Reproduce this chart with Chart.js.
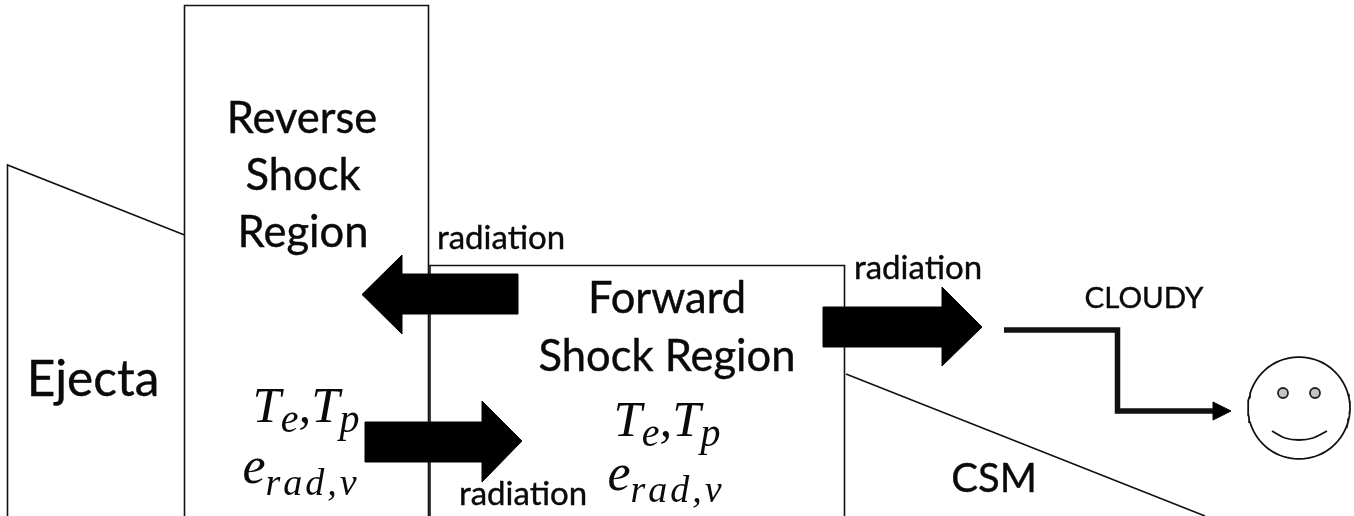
<!DOCTYPE html>
<html>
<head>
<meta charset="utf-8">
<style>
  html, body { margin: 0; padding: 0; background: #fff; }
  #wrap { width: 1354px; height: 516px; }
</style>
<script src="https://cdn.jsdelivr.net/npm/chart.js@4/dist/chart.umd.min.js"></script>
</head>
<body>
<div id="wrap"><canvas id="chart" width="1354" height="516"></canvas></div>
<script>
// outlines, in picture units (x right, y down)
const ejectaLine = [[7.5, 516], [7.5, 165], [184.5, 235]];
const reverseBox = [[184.5, 516], [184.5, 5.5], [428.5, 5.5], [428.5, 516]];
const forwardBox = [[430, 516], [430, 265.5], [844.5, 265.5], [844.5, 516]];
const csmLine = [[846, 374], [1205, 516]];
const arrowLeft = [[518, 274], [402, 274], [402, 255], [362, 294.5], [402, 334], [402, 314], [518, 314], [518, 274]];
const arrowLower = [[365, 422], [482, 422], [482, 401], [522, 441], [482, 482], [482, 462], [365, 462], [365, 422]];
const arrowUpper = [[823, 307], [942, 307], [942, 287], [982, 327], [942, 366], [942, 347], [823, 347], [823, 307]];
const cloudyLine = [[1004, 330], [1117.5, 330], [1117.5, 411], [1215, 411]];
const cloudyHead = [[1213, 402], [1231, 411], [1213, 420], [1213, 402]];
const faceRing = [1299, 408, 51];
const eyes = [[1283, 393], [1315, 393]];
const smile = [[1272, 431], [1285, 438], [1299, 440], [1313, 438], [1327, 431]];

// text, centre x, baseline y, font size
const labels = [
  ["Reverse", 302, 133, 43.5], ["Shock", 303, 190, 43.5], ["Region", 303, 247, 43.5],
  ["Ejecta", 93, 396, 49.5], ["Forward", 667, 313, 43.5], ["Shock Region", 667, 371, 43.5],
  ["CSM", 994, 492, 40], ["CLOUDY", 1144, 308, 29.5],
  ["radiation", 501, 249, 33], ["radiation", 918, 279, 33], ["radiation", 523, 505, 33],
];
const temperatureLabels = [[306, 422], [667, 436]];
const energyLabels = [[301, 483], [666, 490]];

function toPoints(pairs) {
  return pairs.map(([x, y]) => ({ x, y }));
}

function ringPoints(cx, cy, r) {
  const out = [];
  for (let a = 0; a <= 360; a += 4) {
    out.push({ x: cx + r * Math.cos(a * Math.PI / 180), y: cy + r * Math.sin(a * Math.PI / 180) });
  }
  return out;
}

function outline(pairs, width = 1.6) {
  return { data: toPoints(pairs), borderColor: "#111", borderWidth: width, pointRadius: 0, showLine: true, tension: 0, borderCapStyle: "butt", borderJoinStyle: "miter" };
}

function solid(pairs) {
  return { data: toPoints(pairs), borderColor: "#000", borderWidth: 1, pointRadius: 0, showLine: true, tension: 0, solidShape: true };
}

// each part: text, font size, drop below the baseline, letter spacing
function drawParts(ctx, parts, cx, base) {
  let total = 0;
  parts.forEach(([text, size, , spacing]) => {
    ctx.font = `italic ${size}px "Liberation Serif"`;
    ctx.letterSpacing = `${spacing}px`;
    total += ctx.measureText(text).width;
  });
  let cursor = cx - total / 2;
  parts.forEach(([text, size, drop, spacing]) => {
    ctx.font = `italic ${size}px "Liberation Serif"`;
    ctx.letterSpacing = `${spacing}px`;
    ctx.fillText(text, cursor, base + drop);
    cursor += ctx.measureText(text).width;
  });
  ctx.letterSpacing = "0px";
}

const shapePlugin = {
  id: "solidShapes",
  afterDatasetsDraw(chart) {
    const { ctx } = chart;
    ctx.save();
    ctx.fillStyle = "#000";
    chart.data.datasets.forEach((dataset, i) => {
      if (!dataset.solidShape) return;
      const points = chart.getDatasetMeta(i).data;
      ctx.beginPath();
      points.forEach((p, j) => (j ? ctx.lineTo(p.x, p.y) : ctx.moveTo(p.x, p.y)));
      ctx.closePath();
      ctx.fill();
    });
    ctx.restore();
  },
};

const textPlugin = {
  id: "diagramText",
  afterDraw(chart) {
    const { ctx, scales: { x, y } } = chart;
    ctx.save();
    ctx.fillStyle = "#0a0a0a";
    ctx.strokeStyle = "#0a0a0a";
    ctx.lineWidth = 0.4;
    ctx.textBaseline = "alphabetic";
    ctx.textAlign = "center";
    labels.forEach(([text, px, py, size]) => {
      ctx.font = `${size}px Lato, "Open Sans", sans-serif`;
      ctx.fillText(text, x.getPixelForValue(px), y.getPixelForValue(py));
      ctx.strokeText(text, x.getPixelForValue(px), y.getPixelForValue(py));
    });
    ctx.textAlign = "left";
    temperatureLabels.forEach(([px, py]) => {
      drawParts(ctx, [["T", 51, 0, 0], ["e", 40, 10, 0], [",", 51, 0, 0], ["T", 51, 0, 0], ["p", 40, 10, 0]], x.getPixelForValue(px), y.getPixelForValue(py));
    });
    energyLabels.forEach(([px, py]) => {
      drawParts(ctx, [["e", 52, 0, 0], ["rad,ν", 38, 12, 3]], x.getPixelForValue(px), y.getPixelForValue(py));
    });
    ctx.restore();
  },
};

new Chart(document.getElementById("chart"), {
  type: "scatter",
  data: {
    datasets: [
      outline(ejectaLine), outline(reverseBox), outline(forwardBox), outline(csmLine),
      solid(arrowLeft), solid(arrowLower), solid(arrowUpper),
      outline(cloudyLine, 5.5), solid(cloudyHead),
      { data: ringPoints(...faceRing), borderColor: "#111", borderWidth: 1.8, pointRadius: 0, showLine: true, tension: 0 },
      { data: toPoints(eyes), showLine: false, pointRadius: 5, pointBackgroundColor: "#c4c4c4", pointBorderColor: "#222", pointBorderWidth: 1.8 },
      { data: toPoints(smile), borderColor: "#111", borderWidth: 1.8, pointRadius: 0, showLine: true, tension: 0.4 },
    ],
  },
  options: {
    responsive: false,
    animation: false,
    layout: { padding: 0, autoPadding: false },
    plugins: { legend: { display: false }, tooltip: { enabled: false } },
    scales: {
      x: { type: "linear", min: 0, max: 1354, display: false },
      y: { type: "linear", min: 0, max: 516, reverse: true, display: false },
    },
  },
  plugins: [shapePlugin, textPlugin],
});
</script>
</body>
</html>
